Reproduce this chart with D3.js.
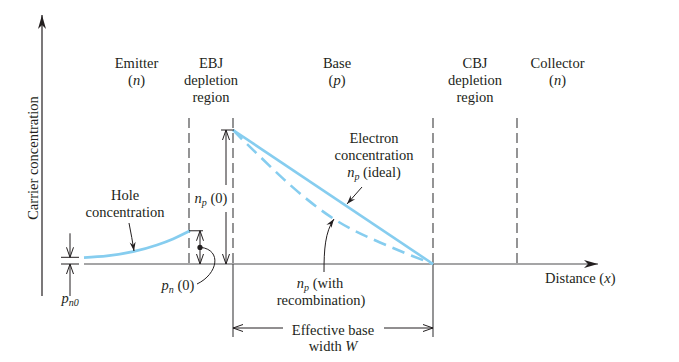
<!DOCTYPE html>
<html>
<head>
<meta charset="utf-8">
<script src="https://cdn.jsdelivr.net/npm/d3@7"></script>
<style>
  body { margin: 0; background: #fff; }
  svg text { font-family: "Liberation Serif", "Times New Roman", serif; fill: #231f20; }
</style>
</head>
<body>
<div id="chart"></div>
<script>
// distance in units of the effective base width W (EBJ edge = 0, CBJ edge = 1)
const boundaries = [-0.22, 0, 1, 1.42]
const axisStart = -0.745, axisEnd = 1.825
const regionLabels = [
  [["Emitter"], ["(", "n", ")"]],
  [["EBJ"], ["depletion"], ["region"]],
  [["Base"], ["(", "p", ")"]],
  [["CBJ"], ["depletion"], ["region"]],
  [["Collector"], ["(", "n", ")"]]
]
// concentration, normalised to n_p(0)
const holeX = [-0.745, -0.63, -0.5, -0.38, -0.3, -0.215]
const holeY = [0.048, 0.06, 0.092, 0.142, 0.187, 0.248]
const idealX = [0, 1]
const idealY = [1, 0]
const recombX = [0, 0.035, 0.15, 0.25, 0.37, 0.485, 0.6, 0.735, 0.87, 1]
const recombY = [1, 0.945, 0.78, 0.635, 0.48, 0.35, 0.25, 0.16, 0.075, 0]
const pn0 = 0.05, pnZero = 0.248, npZero = 1

const W = 679, H = 362
const blue = "#86cdef", ink = "#231f20", grey = "#4d4d4f"

const svg = d3.select("#chart").append("svg")
  .attr("width", W).attr("height", H)

const x = d3.scaleLinear().domain([0, 1]).range([233, 433])
const y = d3.scaleLinear().domain([0, 1]).range([264, 130])
const y0 = y(0)

const defs = svg.append("defs")
defs.append("marker").attr("id", "solidHead")
  .attr("viewBox", "-14 -5 15 10").attr("refX", 0).attr("refY", 0)
  .attr("markerWidth", 15).attr("markerHeight", 10).attr("markerUnits", "userSpaceOnUse")
  .attr("orient", "auto")
  .append("path").attr("d", "M-14,-4 L0,0 L-14,4 L-10,0 Z").attr("fill", ink)
defs.append("marker").attr("id", "pointHead")
  .attr("viewBox", "-10 -4 11 8").attr("refX", 0).attr("refY", 0)
  .attr("markerWidth", 11).attr("markerHeight", 8).attr("markerUnits", "userSpaceOnUse")
  .attr("orient", "auto-start-reverse")
  .append("path").attr("d", "M-9,-3 L0,0 L-9,3 L-6,0 Z").attr("fill", ink)
defs.append("marker").attr("id", "openHead")
  .attr("viewBox", "-11 -5 12 10").attr("refX", 0).attr("refY", 0)
  .attr("markerWidth", 12).attr("markerHeight", 10).attr("markerUnits", "userSpaceOnUse")
  .attr("orient", "auto-start-reverse")
  .append("path").attr("d", "M-10,-3.5 L0,0 L-10,3.5").attr("fill", "none")
  .attr("stroke", ink).attr("stroke-width", 1)

// rich text: parts are [text, style] with style "" | "i" | "s" (italic subscript)
function rich(cx, yb, parts, anchor) {
  const t = svg.append("text").attr("x", cx).attr("y", yb)
    .attr("text-anchor", anchor || "middle").style("font-size", "14.5px")
  let shifted = 0
  parts.forEach(([s, st]) => {
    const ts = t.append("tspan").text(s)
    if (st === "i" || st === "s") ts.style("font-style", "italic")
    if (st === "s") { ts.attr("dy", 3 - shifted).style("font-size", "10px"); shifted = 3 }
    else if (shifted) { ts.attr("dy", -shifted); shifted = 0 }
  })
  return t
}

// axes
svg.append("line").attr("x1", 42).attr("x2", 42).attr("y1", 296).attr("y2", 15)
  .attr("stroke", ink).attr("stroke-width", 1.2).attr("marker-end", "url(#solidHead)")
svg.append("line").attr("x1", x(axisStart)).attr("x2", x(axisEnd)).attr("y1", y0).attr("y2", y0)
  .attr("stroke", grey).attr("stroke-width", 1.2).attr("marker-end", "url(#solidHead)")

svg.append("text").attr("transform", `translate(38,158) rotate(-90)`)
  .attr("text-anchor", "middle").style("font-size", "14.5px").text("Carrier concentration")
rich(545, 283, [["Distance (", ""], ["x", "i"], [")", ""]], "start")

// region boundaries
svg.selectAll(".bnd").data(boundaries).enter().append("line")
  .attr("x1", d => x(d)).attr("x2", d => x(d))
  .attr("y1", y(1.09)).attr("y2", y0)
  .attr("stroke", grey).attr("stroke-width", 1.2).attr("stroke-dasharray", "10,5")
svg.selectAll(".bndLow").data(boundaries.slice(1, 3)).enter().append("line")
  .attr("x1", d => x(d)).attr("x2", d => x(d))
  .attr("y1", y0).attr("y2", 337)
  .attr("stroke", grey).attr("stroke-width", 1.2)

// region headers
const edges = [axisStart, ...boundaries, axisEnd]
regionLabels.forEach((lines, i) => {
  const cx = (x(edges[i]) + x(edges[i + 1])) / 2 + (i === 2 ? 4 : 0)
  lines.forEach((ln, j) => {
    const parts = ln.length === 3 ? [[ln[0], ""], [ln[1], "i"], [ln[2], ""]] : [[ln[0], ""]]
    rich(cx, 68 + j * 17, parts)
  })
})

// curves
const line = d3.line().x(d => x(d[0])).y(d => y(d[1])).curve(d3.curveMonotoneX)
svg.append("path").attr("d", line(d3.zip(holeX, holeY)))
  .attr("fill", "none").attr("stroke", blue).attr("stroke-width", 2.8)
svg.append("path").attr("d", line(d3.zip(idealX, idealY)))
  .attr("fill", "none").attr("stroke", blue).attr("stroke-width", 2.6)
svg.append("path").attr("d", d3.line().x(d => x(d[0])).y(d => y(d[1])).curve(d3.curveBasis)(d3.zip(recombX, recombY)))
  .attr("fill", "none").attr("stroke", blue).attr("stroke-width", 2.6).attr("stroke-dasharray", "13,7")

// p_n0 marker
const xp = 70
svg.append("line").attr("x1", xp - 9).attr("x2", xp + 9).attr("y1", y(pn0)).attr("y2", y(pn0)).attr("stroke", ink)
svg.append("line").attr("x1", xp - 9).attr("x2", xp + 9).attr("y1", y0).attr("y2", y0).attr("stroke", ink)
svg.append("line").attr("x1", xp).attr("x2", xp).attr("y1", y(pn0) - 24).attr("y2", y(pn0))
  .attr("stroke", ink).attr("marker-end", "url(#openHead)")
svg.append("line").attr("x1", xp).attr("x2", xp).attr("y1", y0 + 32).attr("y2", y0)
  .attr("stroke", ink).attr("marker-end", "url(#openHead)")
rich(xp, 303, [["p", "i"], ["n0", "s"]])

// p_n(0) marker
const xb = x(boundaries[0])
svg.append("line").attr("x1", xb).attr("x2", xb + 14).attr("y1", y(pnZero)).attr("y2", y(pnZero)).attr("stroke", ink)
svg.append("line").attr("x1", xb + 11).attr("x2", xb + 11).attr("y1", y(pnZero)).attr("y2", y0)
  .attr("stroke", ink).attr("marker-start", "url(#openHead)").attr("marker-end", "url(#openHead)")
svg.append("circle").attr("cx", xb + 11).attr("cy", y(pnZero / 2)).attr("r", 2.6).attr("fill", ink)
svg.append("path").attr("d", `M${xb + 8},284 C${xb + 29},274 ${xb + 33},250 ${xb + 12},${y(pnZero / 2)}`)
  .attr("fill", "none").attr("stroke", ink)
rich(178, 290, [["p", "i"], ["n", "s"], [" (0)", ""]])

// n_p(0) marker
const xe = x(0)
svg.append("line").attr("x1", xe - 12).attr("x2", xe + 1).attr("y1", y(npZero)).attr("y2", y(npZero)).attr("stroke", ink)
svg.append("line").attr("x1", xe - 7).attr("x2", xe - 7).attr("y1", y(npZero)).attr("y2", 185)
  .attr("stroke", ink).attr("marker-start", "url(#openHead)")
svg.append("line").attr("x1", xe - 7).attr("x2", xe - 7).attr("y1", 212).attr("y2", y0)
  .attr("stroke", ink).attr("marker-end", "url(#openHead)")
rich(211, 203, [["n", "i"], ["p", "s"], [" (0)", ""]])

// hole label
rich(125, 200, [["Hole", ""]])
rich(125, 217, [["concentration", ""]])
svg.append("path").attr("d", "M129,223 Q132,238 134,251")
  .attr("fill", "none").attr("stroke", ink).attr("marker-end", "url(#pointHead)")

// electron label
rich(374, 143, [["Electron", ""]])
rich(374, 160, [["concentration", ""]])
rich(374, 177, [["n", "i"], ["p", "s"], [" (ideal)", ""]])
svg.append("line").attr("x1", 362).attr("y1", 187).attr("x2", 347).attr("y2", 204)
  .attr("stroke", ink).attr("marker-end", "url(#pointHead)")

// recombination label
rich(320, 288, [["n", "i"], ["p", "s"], [" (with", ""]])
rich(321, 305, [["recombination)", ""]])
svg.append("path").attr("d", "M324,272 C324,250 325,232 334,219")
  .attr("fill", "none").attr("stroke", ink).attr("marker-end", "url(#pointHead)")

// effective base width
const yw = 328
svg.append("line").attr("x1", x(0)).attr("x2", 283).attr("y1", yw).attr("y2", yw)
  .attr("stroke", ink).attr("marker-start", "url(#openHead)")
svg.append("line").attr("x1", 384).attr("x2", x(1)).attr("y1", yw).attr("y2", yw)
  .attr("stroke", ink).attr("marker-end", "url(#openHead)")
rich(333, 335, [["Effective base", ""]])
rich(333, 351, [["width ", ""], ["W", "i"]])
</script>
</body>
</html>
